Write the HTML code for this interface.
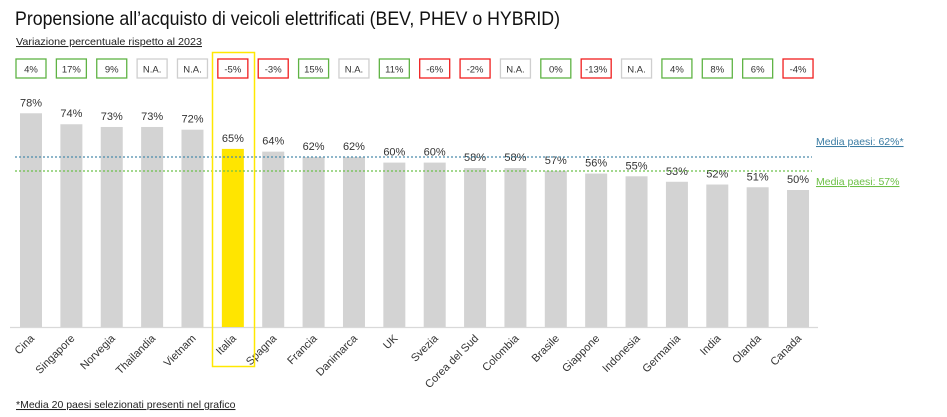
<!DOCTYPE html>
<html><head><meta charset="utf-8"><style>
html,body{margin:0;padding:0;background:#fff;width:947px;height:417px;overflow:hidden}
svg{display:block;font-family:"Liberation Sans",sans-serif}
</style></head><body>
<svg width="947" height="417" viewBox="0 0 947 417" xmlns="http://www.w3.org/2000/svg">
<text x="15" y="25" font-size="19.5" fill="#111" textLength="545" lengthAdjust="spacingAndGlyphs">Propensione all’acquisto di veicoli elettrificati (BEV, PHEV o HYBRID)</text>
<text x="16" y="45" font-size="10.5" fill="#222" text-decoration="underline" textLength="186" lengthAdjust="spacingAndGlyphs">Variazione percentuale rispetto al 2023</text>
<line x1="10" y1="327.5" x2="818" y2="327.5" stroke="#d9d9d9" stroke-width="1.2"/>
<g id="bars"></g>
<line x1="15" y1="157" x2="812" y2="157" stroke="#4a8bab" stroke-width="1.2" stroke-dasharray="2,2"/>
<line x1="15" y1="171" x2="812" y2="171" stroke="#6cc04a" stroke-width="1.2" stroke-dasharray="2,2"/>
<text x="816" y="145" font-size="10.5" fill="#3b7ca3" text-decoration="underline">Media paesi: 62%*</text>
<text x="816" y="185" font-size="10.5" fill="#6cbf45" text-decoration="underline">Media paesi: 57%</text>
<rect x="212.5" y="52.5" width="42" height="314" fill="none" stroke="#ffe800" stroke-width="1.5"/>
<text x="16" y="408" font-size="10.5" fill="#222" text-decoration="underline">*Media 20 paesi selezionati presenti nel grafico</text>
</svg>
<script>
const d=[["Cina",78,"4%","g"],["Singapore",74,"17%","g"],["Norvegia",73,"9%","g"],["Thailandia",73,"N.A.","n"],["Vietnam",72,"N.A.","n"],["Italia",65,"-5%","r"],["Spagna",64,"-3%","r"],["Francia",62,"15%","g"],["Danimarca",62,"N.A.","n"],["UK",60,"11%","g"],["Svezia",60,"-6%","r"],["Corea del Sud",58,"-2%","r"],["Colombia",58,"N.A.","n"],["Brasile",57,"0%","g"],["Giappone",56,"-13%","r"],["Indonesia",55,"N.A.","n"],["Germania",53,"4%","g"],["India",52,"8%","g"],["Olanda",51,"6%","g"],["Canada",50,"-4%","r"]];
const col={g:"#5fb344",r:"#f01e1e",n:"#cfcfcf"};
let s="";
d.forEach((e,i)=>{const cx=31+i*40.37,h=e[1]*2.74,y=327-h;
s+=`<rect x="${cx-11}" y="${y}" width="22" height="${h}" fill="${e[0]=="Italia"?"#ffe500":"#d3d3d3"}"/>`;
s+=`<text x="${cx}" y="${y-7}" font-size="11" fill="#333" text-anchor="middle">${e[1]}%</text>`;
s+=`<rect x="${cx-15}" y="59" width="30" height="19" fill="#fff" stroke="${col[e[3]]}" stroke-width="1.3"/>`;
s+=`<text x="${cx}" y="72.5" font-size="9.5" fill="#333" text-anchor="middle">${e[2]}</text>`;
s+=`<text transform="translate(${cx+4},339) rotate(-45)" font-size="11" fill="#333" text-anchor="end">${e[0]}</text>`;});
document.getElementById("bars").innerHTML=s;
</script>
</body></html>
